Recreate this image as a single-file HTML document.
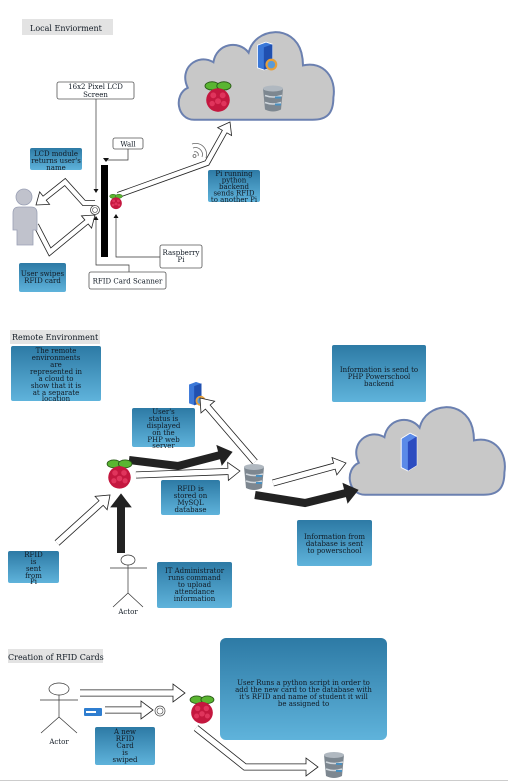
<!DOCTYPE html>
<html><head><meta charset="utf-8">
<style>
html,body{margin:0;padding:0;background:#fff;}
svg{display:block;}
text{font-family:"DejaVu Serif","Liberation Serif",serif;fill:#111a24;}
.lbl{font-size:8px;}
.bt{font-size:7px;}
</style></head><body>
<svg id="s" width="508" height="783" viewBox="0 0 508 783" xmlns="http://www.w3.org/2000/svg">
<defs>
<linearGradient id="g" x1="0" y1="0" x2="0" y2="1">
<stop offset="0" stop-color="#2d7aa5"/><stop offset="1" stop-color="#5fb3db"/>
</linearGradient>
<symbol id="cloud" viewBox="0 0 100 60">
<path d="M12,58 C1,58 -1,42 8,38 C2,26 14,16 24,22 C26,10 40,8 46,16 C50,0 74,-2 79,16 C80,20 80,22 80,24 C93,21 101,32 99,44 C99,54 95,58 86,58 Z" fill="#c8c8c8" stroke="#6b80b0" stroke-width="2" vector-effect="non-scaling-stroke"/>
</symbol>
<symbol id="pi" viewBox="0 0 24 28">
<ellipse cx="7" cy="5" rx="6" ry="3.5" fill="#5ab531" stroke="#2a5a18" stroke-width="0.8"/>
<ellipse cx="17" cy="5" rx="6" ry="3.5" fill="#5ab531" stroke="#2a5a18" stroke-width="0.8"/>
<ellipse cx="12" cy="17" rx="10" ry="10" fill="#c4173f"/>
<circle cx="8" cy="13" r="2.5" fill="#e0345c"/><circle cx="16" cy="13" r="2.5" fill="#e0345c"/>
<circle cx="12" cy="18" r="2.5" fill="#e0345c"/><circle cx="7" cy="20" r="2.3" fill="#e0345c"/><circle cx="17" cy="20" r="2.3" fill="#e0345c"/>
</symbol>
<symbol id="db" viewBox="0 0 22 28">
<path d="M1,4 L3,25 Q11,29 19,25 L21,4 Z" fill="#7d8790"/>
<ellipse cx="11" cy="4" rx="10" ry="3" fill="#b0b8c0"/>
<path d="M3,11 Q11,14 20,11 M3,18 Q11,21 19,18" stroke="#cfd6dc" stroke-width="1.5" fill="none"/>
<rect x="13" y="12" width="6" height="2" fill="#4a90c0"/><rect x="13" y="19" width="6" height="2" fill="#4a90c0"/>
</symbol>
<symbol id="srv" viewBox="0 0 24 28">
<path d="M4,4 L12,1 L18,3 L18,24 L10,27 L4,25 Z" fill="#3b78d8" stroke="#fff" stroke-width="0.8"/>
<path d="M10,6 L18,3 L18,24 L10,27 Z" fill="#2050b0"/>
<circle cx="17" cy="22" r="5.5" fill="#e8a03a"/><circle cx="17" cy="22" r="3.5" fill="#5a9ad8"/>
</symbol>
<symbol id="srv2" viewBox="0 0 16 36">
<path d="M1,6 L9,1 L15,4 L15,30 L7,35 L1,32 Z" fill="#5a8ae8" stroke="#fff" stroke-width="0.8"/>
<path d="M7,9 L15,4 L15,30 L7,35 Z" fill="#2c4cc0"/>
</symbol>
</defs>

<!-- Section 1 -->
<rect x="22" y="19" width="91" height="16" fill="#e3e3e3"/>
<text x="30" y="31" class="lbl" font-size="9">Local Enviorment</text>
<use href="#cloud" x="172" y="27" width="166" height="96" preserveAspectRatio="none"/>
<use href="#srv" x="253" y="41" width="26" height="30"/>
<use href="#pi" x="203" y="80" width="30" height="33"/>
<use href="#db" x="262" y="84" width="22" height="29"/>

<g id="arrows1"></g>

<rect x="57" y="82" width="77" height="17" rx="2" fill="#fff" stroke="#555" stroke-width="0.8"/>
<text x="95.5" y="89" text-anchor="middle" class="bt">16x2 Pixel LCD</text>
<text x="95.5" y="97" text-anchor="middle" class="bt">Screen</text>
<path d="M96,99 V190" stroke="#333" stroke-width="0.7" fill="none"/>
<path d="M93.5,189 L96,193 L98.5,189Z" fill="#111"/>
<rect x="113" y="138" width="30" height="11" rx="2" fill="#fff" stroke="#555" stroke-width="0.8"/>
<text x="128" y="146.5" text-anchor="middle" class="bt">Wall</text>
<path d="M128,149 V160 H106" stroke="#333" stroke-width="0.7" fill="none"/>
<path d="M103,158 L106,162 L109,158Z" fill="#111"/>
<rect x="101" y="165" width="7" height="92" fill="#000"/>
<use href="#pi" x="109" y="193" width="14" height="17"/>
<rect x="30" y="148" width="52" height="22" rx="2" fill="url(#g)"/>
<text x="56" y="156" text-anchor="middle" class="bt">LCD module</text>
<text x="56" y="163" text-anchor="middle" class="bt">returns user's</text>
<text x="56" y="170" text-anchor="middle" class="bt">name</text>
<rect x="208" y="170" width="52" height="32" rx="2" fill="url(#g)"/>
<text x="234" y="176" text-anchor="middle" class="bt">Pi running</text>
<text x="234" y="182.5" text-anchor="middle" class="bt">python</text>
<text x="234" y="189" text-anchor="middle" class="bt">backend</text>
<text x="234" y="195.5" text-anchor="middle" class="bt">sends RFID</text>
<text x="234" y="202" text-anchor="middle" class="bt">to another Pi</text>
<!-- person -->
<circle cx="24" cy="197" r="8" fill="#c0c2cc" stroke="#9aa0b5" stroke-width="0.8"/>
<path d="M13,213 Q13,207 19,207 H31 Q37,207 37,213 V230 H33 V245 H17 V230 H13 Z" fill="#c0c2cc" stroke="#9aa0b5" stroke-width="0.8"/>
<circle cx="95" cy="210" r="4.5" fill="#fff" stroke="#444" stroke-width="0.8"/>
<circle cx="95" cy="210" r="2.5" fill="#fff" stroke="#444" stroke-width="0.6"/>
<rect x="19" y="263" width="47" height="29" rx="2" fill="url(#g)"/>
<text x="42.5" y="276" text-anchor="middle" class="bt">User swipes</text>
<text x="42.5" y="283" text-anchor="middle" class="bt">RFID card</text>
<path d="M96,218 V265 H129 V272" stroke="#333" stroke-width="0.7" fill="none"/>
<path d="M93.5,220 L96,216 L98.5,220Z" fill="#111"/>
<rect x="89" y="272" width="77" height="17" rx="2" fill="#fff" stroke="#555" stroke-width="0.8"/>
<text x="127.5" y="283.5" text-anchor="middle" class="bt">RFID Card Scanner</text>
<path d="M116,216 V257 H160" stroke="#333" stroke-width="0.7" fill="none"/>
<path d="M113.5,218 L116,214 L118.5,218Z" fill="#111"/>
<rect x="160" y="245" width="42" height="23" rx="2" fill="#fff" stroke="#555" stroke-width="0.8"/>
<text x="181" y="255" text-anchor="middle" class="bt">Raspberry</text>
<text x="181" y="262" text-anchor="middle" class="bt">Pi</text>
<!-- wifi -->
<g fill="none" stroke="#666" stroke-width="0.8">
<path d="M194,152 a3,3 0 0 1 4,4"/><path d="M193,148 a7,7 0 0 1 9,9"/><path d="M192,144 a11,11 0 0 1 14,14"/>
</g>
<circle cx="194.5" cy="156" r="1.5" fill="none" stroke="#666" stroke-width="0.8"/>

<!-- Section 2 -->
<rect x="10" y="330" width="90" height="14" fill="#e3e3e3"/>
<text x="12" y="340" class="lbl">Remote Environment</text>
<rect x="11" y="346" width="90" height="55" rx="2" fill="url(#g)"/>
<g class="bt" text-anchor="middle">
<text x="56" y="353">The remote</text><text x="56" y="360">environments</text><text x="56" y="367">are</text>
<text x="56" y="374">represented in</text><text x="56" y="381">a cloud to</text><text x="56" y="388">show that it is</text>
<text x="56" y="395">at a separate</text><text x="56" y="401">location</text>
</g>
<rect x="332" y="345" width="94" height="57" rx="2" fill="url(#g)"/>
<g class="bt" text-anchor="middle"><text x="379" y="372">Information is send to</text><text x="379" y="379">PHP Powerschool</text><text x="379" y="386">backend</text></g>
<use href="#cloud" x="346" y="392" width="160" height="116" preserveAspectRatio="none"/>
<use href="#srv2" x="400" y="432" width="18" height="40"/>
<use href="#srv" x="185" y="380" width="22" height="27"/>
<rect x="132" y="408" width="63" height="39" rx="2" fill="url(#g)"/>
<g class="bt" text-anchor="middle"><text x="163.5" y="414">User's</text><text x="163.5" y="421">status is</text><text x="163.5" y="428">displayed</text><text x="163.5" y="435">on the</text><text x="163.5" y="442">PHP web</text><text x="163.5" y="448">server</text></g>
<rect x="161" y="480" width="59" height="35" rx="2" fill="url(#g)"/>
<g class="bt" text-anchor="middle"><text x="190.5" y="491">RFID is</text><text x="190.5" y="498">stored on</text><text x="190.5" y="505">MySQL</text><text x="190.5" y="512">database</text></g>
<rect x="297" y="520" width="75" height="46" rx="2" fill="url(#g)"/>
<g class="bt" text-anchor="middle"><text x="334.5" y="539">Information from</text><text x="334.5" y="546">database is sent</text><text x="334.5" y="553">to powerschool</text></g>
<rect x="8" y="551" width="51" height="32" rx="2" fill="url(#g)"/>
<g class="bt" text-anchor="middle"><text x="33.5" y="557">RFID</text><text x="33.5" y="564">is</text><text x="33.5" y="571">sent</text><text x="33.5" y="578">from</text><text x="33.5" y="584">Pi</text></g>
<rect x="157" y="562" width="75" height="46" rx="2" fill="url(#g)"/>
<g class="bt" text-anchor="middle"><text x="194.5" y="573">IT Administrator</text><text x="194.5" y="580">runs command</text><text x="194.5" y="587">to upload</text><text x="194.5" y="594">attendance</text><text x="194.5" y="601">information</text></g>

<g id="arrows2"></g>
<use href="#pi" x="106" y="458" width="27" height="32"/>
<use href="#db" x="242" y="463" width="24" height="28"/>
<!-- actor -->
<g stroke="#333" stroke-width="0.7" fill="none">
<ellipse cx="128" cy="560" rx="7" ry="5"/>
<path d="M128,565 V593 M110,568 H147 M128,593 L113,607 M128,593 L143,607"/>
</g>
<text x="128" y="614" text-anchor="middle" class="bt">Actor</text>

<!-- Section 3 -->
<rect x="8" y="649" width="95" height="14" fill="#e3e3e3"/>
<text x="8" y="660" class="lbl">Creation of RFID Cards</text>
<rect x="220" y="638" width="167" height="102" rx="6" fill="url(#g)"/>
<g class="bt" text-anchor="middle"><text x="303.5" y="685">User Runs a python script in order to</text><text x="303.5" y="692">add the new card to the database with</text><text x="303.5" y="699">it's RFID and name of student it will</text><text x="303.5" y="706">be assigned to</text></g>
<g stroke="#333" stroke-width="0.7" fill="none">
<ellipse cx="59" cy="689" rx="10" ry="6"/>
<path d="M59,695 V717 M40,700 H78 M59,717 L41,733 M59,717 L77,733"/>
</g>
<text x="59" y="744" text-anchor="middle" class="bt">Actor</text>
<rect x="84" y="708" width="18" height="8" rx="1" fill="#2f7ed0"/><rect x="86" y="711" width="10" height="2" fill="#fff"/>
<circle cx="160" cy="711" r="5" fill="#fff" stroke="#444" stroke-width="0.7"/>
<circle cx="160" cy="711" r="3" fill="#fff" stroke="#444" stroke-width="0.6"/>
<rect x="95" y="727" width="60" height="38" rx="2" fill="url(#g)"/>
<g class="bt" text-anchor="middle"><text x="125" y="734">A new</text><text x="125" y="741">RFID</text><text x="125" y="748">Card</text><text x="125" y="755">is</text><text x="125" y="762">swiped</text></g>
<g id="arrows3"></g>
<use href="#pi" x="189" y="694" width="26" height="31"/>
<use href="#db" x="322" y="751" width="24" height="28"/>
<rect x="0" y="780" width="508" height="1" fill="#ccc"/>
</svg>
<script>
function hollow(g,pts,w,hw,hl,fill,stroke){
  var ns="http://www.w3.org/2000/svg";
  var n=pts.length, a=pts[n-2], b=pts[n-1];
  var dx=b[0]-a[0], dy=b[1]-a[1], L=Math.hypot(dx,dy); dx/=L; dy/=L;
  var base=[b[0]-dx*hl,b[1]-dy*hl];
  var p2=pts.slice(0,n-1).concat([base]);
  var d="M"+p2.map(function(p){return p.join(",")}).join(" L");
  var s=document.createElementNS(ns,"path");
  s.setAttribute("d",d);s.setAttribute("fill","none");s.setAttribute("stroke",stroke);
  s.setAttribute("stroke-width",w);s.setAttribute("stroke-linejoin","miter");g.appendChild(s);
  if(fill!=stroke){var i=document.createElementNS(ns,"path");i.setAttribute("d",d);i.setAttribute("fill","none");i.setAttribute("stroke",fill);i.setAttribute("stroke-width",w-1.6);g.appendChild(i);}
  var px=-dy,py=dx;
  var h=document.createElementNS(ns,"polygon");
  h.setAttribute("points",[b,[base[0]+px*hw,base[1]+py*hw],[base[0]-px*hw,base[1]-py*hw]].map(function(p){return p.join(",")}).join(" "));
  h.setAttribute("fill",fill);h.setAttribute("stroke",stroke);h.setAttribute("stroke-width",0.8);g.appendChild(h);
  if(fill!=stroke){var c=document.createElementNS(ns,"path");c.setAttribute("d","M"+(base[0]+px*(w/2-0.8))+","+(base[1]+py*(w/2-0.8))+" L"+(base[0]-px*(w/2-0.8))+","+(base[1]-py*(w/2-0.8)));c.setAttribute("stroke",fill);c.setAttribute("stroke-width",1.6);g.appendChild(c);}
}
var K="#222",W="#fff";
var g1=document.getElementById("arrows1");
hollow(g1,[[118,195],[207,163],[230,122]],6,8,11,W,K);
hollow(g1,[[95,203],[84,203],[65,182],[36,205]],6,8,11,W,K);
hollow(g1,[[36,225],[50,252],[95,215]],6,8,11,W,K);
var g2=document.getElementById("arrows2");
hollow(g2,[[57,543],[110,495]],7,9,12,W,K);
hollow(g2,[[136,475],[240,471]],7,9,12,W,K);
hollow(g2,[[255,462],[200,398]],7,9,12,W,K);
hollow(g2,[[273,483],[346,463]],7,9,12,W,K);
hollow(g2,[[129,460],[178,466],[232,452]],8,10,13,K,K);
hollow(g2,[[255,495],[305,503],[358,490]],8,10,13,K,K);
hollow(g2,[[121,553],[121,494]],8,10,13,K,K);
var g3=document.getElementById("arrows3");
hollow(g3,[[80,693],[185,693]],7,9,12,W,K);
hollow(g3,[[105,710],[153,710]],7,9,12,W,K);
hollow(g3,[[196,728],[245,767],[318,767]],7,9,12,W,K);
</script>
</body></html>
